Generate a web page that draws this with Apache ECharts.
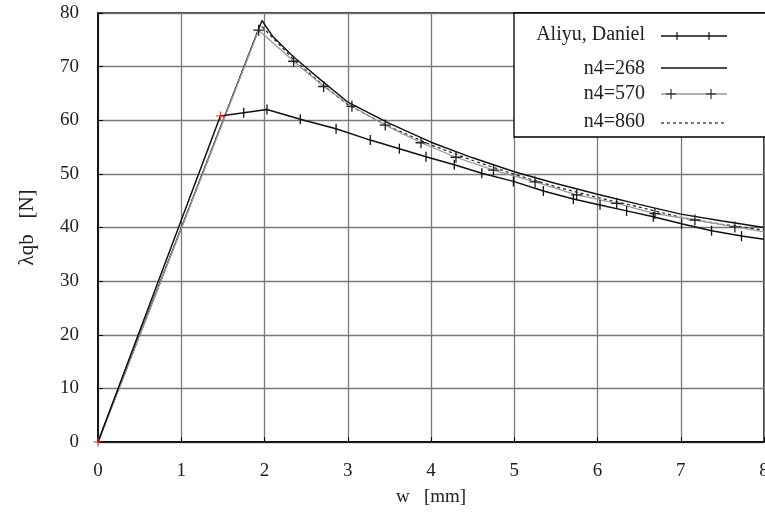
<!DOCTYPE html>
<html>
<head>
<meta charset="utf-8">
<script src="https://cdn.jsdelivr.net/npm/echarts@6/dist/echarts.min.js"></script>
<style>html,body{margin:0;padding:0;background:#fff}#c{width:765px;height:527px}</style>
</head>
<body>
<div id="c"></div>
<script>
// ---- data ----
var xTicks = [0,1,2,3,4,5,6,7,8];
var yTicks = [0,10,20,30,40,50,60,70,80];
var aliyu = [[0,0],[1.47,60.8],[1.75,61.4],[2.03,62.0],[2.43,60.2],[2.86,58.4],[3.27,56.3],[3.62,54.7],[3.94,53.2],[4.28,51.7],[4.61,50.1],[4.99,48.6],[5.35,46.8],[5.71,45.3],[6.03,44.2],[6.35,43.1],[6.67,42.0],[7.01,40.7],[7.37,39.4],[7.73,38.4],[8.0,37.8]];
var n268 = [[0,0],[1.97,78.6],[2.1,75.6],[2.35,71.8],[2.7,67.2],[3.0,63.4],[3.5,59.4],[4.0,55.9],[4.5,53.0],[5.0,50.4],[5.5,48.2],[6.0,46.2],[6.5,44.3],[7.0,42.5],[7.5,41.2],[8.0,40.0]];
var n570 = [[0,0],[1.93,76.8],[2.35,71.0],[2.71,66.3],[3.05,62.6],[3.45,59.1],[3.88,55.8],[4.30,53.1],[4.75,50.7],[5.25,48.5],[5.75,46.1],[6.23,44.5],[6.69,42.6],[7.17,41.4],[7.65,40.1],[8.0,39.2]];
var n860 = [[0,0],[1.95,77.8],[2.35,71.3],[2.7,66.6],[3.0,62.9],[3.5,58.8],[4.0,55.4],[4.5,52.5],[5.0,49.9],[5.5,47.6],[6.0,45.6],[6.5,43.8],[7.0,41.9],[7.5,40.6],[8.0,39.5]];
var names = ['Aliyu, Daniel','n4=268','n4=570','n4=860'];

var FONT = '"Liberation Serif", "DejaVu Serif", serif';
var plusPath = 'path://M4.4,0H5.6V4.4H10V5.6H5.6V10H4.4V5.6H0V4.4H4.4Z';

function markEnds(arr, redIdx) {
  return arr.map(function (p, i) {
    var d = {value: p};
    if (i === arr.length - 1) d.symbol = 'none';
    if (redIdx && redIdx.indexOf(i) >= 0) {
      d.symbol = plusPath; d.symbolSize = 9; d.itemStyle = {color: '#e03030'};
    }
    return d;
  });
}
var aliyuData = markEnds(aliyu, [0,1]);
var n570Data = markEnds(n570).map(function (d, i) { if (i === 0) d.symbol = 'none'; return d; });

var chart = echarts.init(document.getElementById('c'), null, {renderer: 'canvas'});
chart.setOption({
  animation: false,
  backgroundColor: '#fff',
  grid: {left: 98, right: 1, top: 13, bottom: 85, containLabel: false, outerBoundsMode: 'none',
         show: true, borderColor: '#000', borderWidth: 1.5},
  xAxis: {
    type: 'value', min: xTicks[0], max: xTicks[xTicks.length - 1], interval: 1,
    name: 'w   [mm]', nameLocation: 'middle', nameGap: 46,
    nameTextStyle: {fontFamily: FONT, fontSize: 19, color: '#222'},
    axisLine: {lineStyle: {color: '#000', width: 1.5}},
    axisTick: {inside: true, length: 5, lineStyle: {color: '#000'}},
    axisLabel: {fontFamily: FONT, fontSize: 19, color: '#222', margin: 20},
    splitLine: {show: true, lineStyle: {color: '#7a7a7a', width: 1.3}}
  },
  yAxis: {
    type: 'value', min: yTicks[0], max: yTicks[yTicks.length - 1], interval: 10,
    name: 'λqb   [N]', nameLocation: 'middle', nameGap: 60,
    nameTextStyle: {fontFamily: FONT, fontSize: 21, color: '#222'},
    axisLine: {lineStyle: {color: '#000', width: 1.5}},
    axisTick: {inside: true, length: 5, lineStyle: {color: '#000'}},
    axisLabel: {fontFamily: FONT, fontSize: 19, color: '#222', margin: 19},
    splitLine: {show: true, lineStyle: {color: '#7a7a7a', width: 1.3}}
  },
  legend: {show: false},
  series: [
    {name: names[1], type: 'line', data: n268, showSymbol: false, symbol: 'none',
     lineStyle: {color: '#111', width: 1.4}, z: 3},
    {name: names[3], type: 'line', data: n860, showSymbol: false, symbol: 'none',
     lineStyle: {color: '#222', width: 1.2, type: [3, 3]}, z: 4},
    {name: names[2], type: 'line', data: n570Data, symbol: plusPath, symbolSize: 11,
     itemStyle: {color: '#222'}, lineStyle: {color: '#9a9a9a', width: 1.3}, z: 5},
    {name: names[0], type: 'line', data: aliyuData, symbol: 'rect', symbolSize: [1.3, 10],
     itemStyle: {color: '#111'}, lineStyle: {color: '#111', width: 1.5}, z: 6}
  ],
  graphic: [
    {type: 'rect', shape: {x: 514, y: 13, width: 260, height: 124},
     style: {fill: '#fff', stroke: '#000', lineWidth: 1.3}, z: 100},
    {type: 'text', x: 645, y: 35, style: {text: names[0], font: '20px ' + FONT, fill: '#222', textAlign: 'right', textVerticalAlign: 'middle'}, z: 101},
    {type: 'text', x: 645, y: 69, style: {text: names[1], font: '20px ' + FONT, fill: '#222', textAlign: 'right', textVerticalAlign: 'middle'}, z: 101},
    {type: 'text', x: 645, y: 94, style: {text: names[2], font: '20px ' + FONT, fill: '#222', textAlign: 'right', textVerticalAlign: 'middle'}, z: 101},
    {type: 'text', x: 645, y: 122, style: {text: names[3], font: '20px ' + FONT, fill: '#222', textAlign: 'right', textVerticalAlign: 'middle'}, z: 101},
    {type: 'line', shape: {x1: 661, y1: 36, x2: 727, y2: 36}, style: {stroke: '#111', lineWidth: 1.3}, z: 101},
    {type: 'line', shape: {x1: 677, y1: 32, x2: 677, y2: 40}, style: {stroke: '#111', lineWidth: 1.2}, z: 101},
    {type: 'line', shape: {x1: 709, y1: 32, x2: 709, y2: 40}, style: {stroke: '#111', lineWidth: 1.2}, z: 101},
    {type: 'line', shape: {x1: 661, y1: 68, x2: 727, y2: 68}, style: {stroke: '#111', lineWidth: 1.3}, z: 101},
    {type: 'line', shape: {x1: 661, y1: 94, x2: 727, y2: 94}, style: {stroke: '#9a9a9a', lineWidth: 1.3}, z: 101},
    {type: 'line', shape: {x1: 666, y1: 94, x2: 676, y2: 94}, style: {stroke: '#222', lineWidth: 1.1}, z: 102},
    {type: 'line', shape: {x1: 671, y1: 89, x2: 671, y2: 99}, style: {stroke: '#222', lineWidth: 1.1}, z: 102},
    {type: 'line', shape: {x1: 706, y1: 94, x2: 716, y2: 94}, style: {stroke: '#222', lineWidth: 1.1}, z: 102},
    {type: 'line', shape: {x1: 711, y1: 89, x2: 711, y2: 99}, style: {stroke: '#222', lineWidth: 1.1}, z: 102},
    {type: 'line', shape: {x1: 661, y1: 123, x2: 727, y2: 123}, style: {stroke: '#222', lineWidth: 1.2, lineDash: [3, 3]}, z: 101}
  ]
});
</script>
</body>
</html>
